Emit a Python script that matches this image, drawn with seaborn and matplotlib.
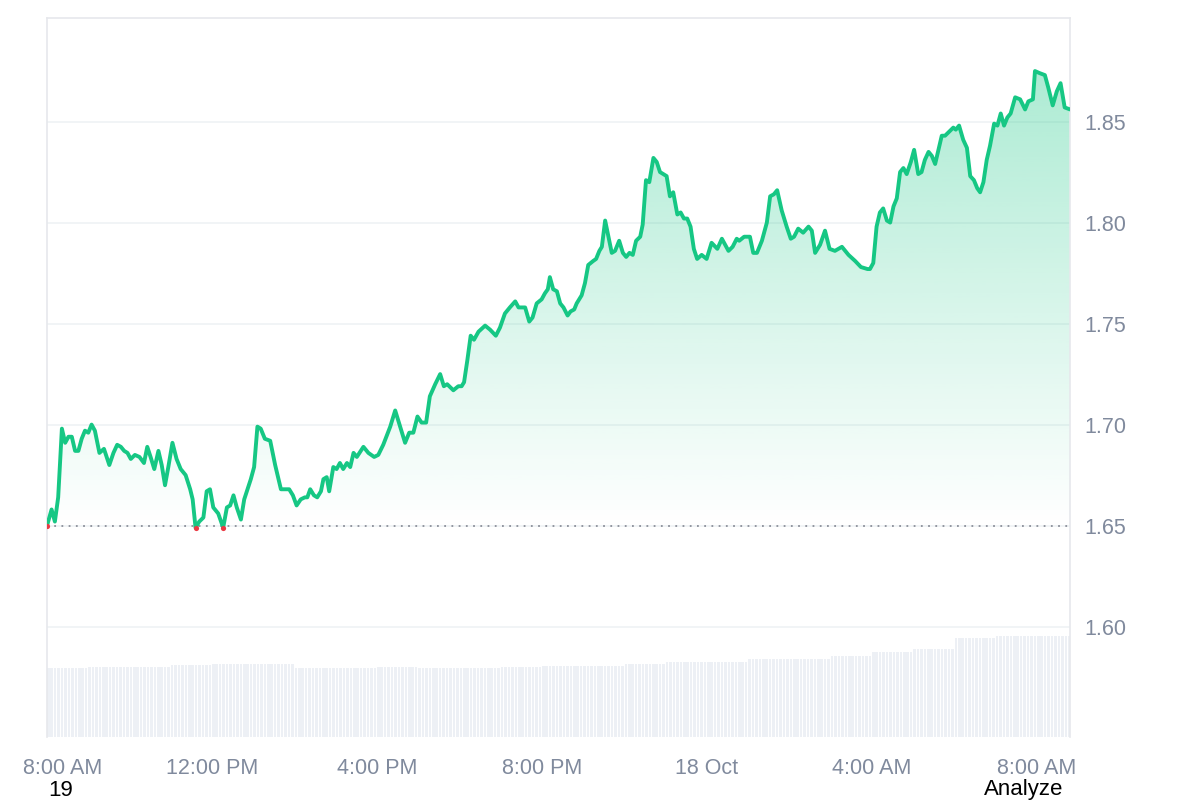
import numpy as np
import pandas as pd
import matplotlib
matplotlib.use('Agg')
import matplotlib.pyplot as plt
from matplotlib.transforms import ScaledTranslation
import seaborn as sns

# Precio: horas desde las 8:00 AM del 17 Oct
hours = [0.00, 0.11, 0.19, 0.27, 0.36, 0.44, 0.52, 0.60, 0.68, 0.76,
         0.84, 0.92, 1.00, 1.08, 1.16, 1.27, 1.38, 1.51, 1.61, 1.70,
         1.79, 1.87, 1.95, 2.03, 2.13, 2.24, 2.35, 2.43, 2.51, 2.60,
         2.70, 2.78, 2.86, 2.94, 3.04, 3.14, 3.24, 3.36, 3.47, 3.53,
         3.60, 3.69, 3.79, 3.87, 3.95, 4.03, 4.15, 4.27, 4.36, 4.44,
         4.52, 4.60, 4.70, 4.78, 4.86, 4.94, 5.02, 5.10, 5.18, 5.28,
         5.41, 5.53, 5.67, 5.77, 5.87, 5.96, 6.05, 6.15, 6.25, 6.31,
         6.38, 6.47, 6.55, 6.64, 6.70, 6.78, 6.84, 6.94, 7.02, 7.10,
         7.18, 7.27, 7.35, 7.43, 7.51, 7.67, 7.79, 7.93, 8.03, 8.15,
         8.32, 8.44, 8.56, 8.68, 8.78, 8.88, 8.98, 9.08, 9.19, 9.28,
         9.41, 9.53, 9.62, 9.70, 9.85, 9.97, 10.05, 10.11, 10.19, 10.27,
         10.35, 10.46, 10.62, 10.74, 10.88, 10.98, 11.10, 11.22, 11.35, 11.43,
         11.59, 11.69, 11.77, 11.87, 11.99, 12.07, 12.14, 12.19, 12.27, 12.36,
         12.44, 12.52, 12.62, 12.69, 12.78, 12.84, 12.96, 13.04, 13.12, 13.24,
         13.31, 13.39, 13.45, 13.53, 13.61, 13.69, 13.77, 13.87, 13.96, 14.04,
         14.12, 14.20, 14.28, 14.38, 14.44, 14.52, 14.60, 14.70, 14.78, 14.86,
         14.94, 15.02, 15.10, 15.18, 15.28, 15.36, 15.44, 15.52, 15.60, 15.68,
         15.76, 15.87, 15.99, 16.11, 16.25, 16.36, 16.52, 16.62, 16.72, 16.78,
         16.90, 17.04, 17.12, 17.21, 17.33, 17.45, 17.53, 17.62, 17.70, 17.81,
         17.93, 18.03, 18.11, 18.21, 18.33, 18.46, 18.54, 18.62, 18.74, 18.86,
         18.97, 19.10, 19.27, 19.43, 19.59, 19.73, 19.89, 19.95, 20.03, 20.11,
         20.19, 20.27, 20.36, 20.44, 20.52, 20.60, 20.68, 20.76, 20.84, 20.94,
         21.02, 21.12, 21.20, 21.28, 21.37, 21.45, 21.53, 21.61, 21.69, 21.77,
         21.87, 21.97, 22.03, 22.11, 22.21, 22.30, 22.38, 22.47, 22.55, 22.62,
         22.70, 22.78, 22.86, 22.96, 23.04, 23.12, 23.20, 23.28, 23.36, 23.47,
         23.59, 23.71, 23.79, 23.90, 23.95, 24.06, 24.19, 24.27, 24.38, 24.48,
         24.57, 24.67, 24.80]

price = [1.650, 1.658, 1.652, 1.664, 1.698, 1.691, 1.694, 1.694, 1.687, 1.687,
         1.693, 1.697, 1.696, 1.700, 1.697, 1.686, 1.688, 1.680, 1.686, 1.690,
         1.689, 1.687, 1.686, 1.683, 1.685, 1.684, 1.681, 1.689, 1.684, 1.678,
         1.687, 1.680, 1.670, 1.679, 1.691, 1.683, 1.678, 1.675, 1.668, 1.663,
         1.649, 1.652, 1.654, 1.667, 1.668, 1.659, 1.656, 1.649, 1.659, 1.660,
         1.665, 1.659, 1.653, 1.663, 1.668, 1.673, 1.679, 1.699, 1.698, 1.693,
         1.692, 1.680, 1.668, 1.668, 1.668, 1.665, 1.660, 1.663, 1.664, 1.664,
         1.668, 1.665, 1.664, 1.667, 1.673, 1.674, 1.667, 1.679, 1.678, 1.681,
         1.678, 1.681, 1.679, 1.686, 1.684, 1.689, 1.686, 1.684, 1.685, 1.690,
         1.699, 1.707, 1.699, 1.691, 1.696, 1.696, 1.704, 1.701, 1.701, 1.714,
         1.720, 1.725, 1.719, 1.720, 1.717, 1.719, 1.719, 1.721, 1.732, 1.744,
         1.742, 1.746, 1.749, 1.747, 1.744, 1.748, 1.755, 1.758, 1.761, 1.758,
         1.758, 1.751, 1.753, 1.760, 1.762, 1.765, 1.767, 1.773, 1.767, 1.766,
         1.760, 1.758, 1.754, 1.756, 1.757, 1.760, 1.764, 1.770, 1.779, 1.781,
         1.782, 1.786, 1.788, 1.801, 1.793, 1.785, 1.786, 1.791, 1.785, 1.783,
         1.785, 1.784, 1.791, 1.793, 1.799, 1.821, 1.820, 1.832, 1.830, 1.825,
         1.824, 1.823, 1.813, 1.815, 1.804, 1.805, 1.802, 1.802, 1.798, 1.787,
         1.782, 1.784, 1.782, 1.790, 1.787, 1.792, 1.786, 1.788, 1.792, 1.791,
         1.793, 1.793, 1.785, 1.785, 1.791, 1.800, 1.813, 1.814, 1.816, 1.806,
         1.798, 1.792, 1.793, 1.797, 1.795, 1.798, 1.796, 1.785, 1.789, 1.796,
         1.787, 1.786, 1.788, 1.784, 1.781, 1.778, 1.777, 1.777, 1.780, 1.798,
         1.805, 1.807, 1.801, 1.800, 1.808, 1.812, 1.825, 1.827, 1.824, 1.830,
         1.836, 1.824, 1.825, 1.831, 1.835, 1.833, 1.829, 1.836, 1.843, 1.843,
         1.845, 1.847, 1.846, 1.848, 1.841, 1.837, 1.823, 1.821, 1.817, 1.815,
         1.820, 1.831, 1.838, 1.849, 1.848, 1.854, 1.848, 1.852, 1.854, 1.862,
         1.861, 1.856, 1.860, 1.861, 1.875, 1.874, 1.873, 1.867, 1.858, 1.865,
         1.869, 1.857, 1.856]

# Volumen (24h, millones) por hora
volume_hourly = [34.5, 35.0, 35.0, 36.0, 36.7, 36.5, 34.5, 34.7, 35.2, 34.5,
                 34.5, 35.0, 35.5, 35.5, 36.7, 37.5, 37.7, 39.0, 39.0, 40.5,
                 42.5, 44.0, 49.5, 50.5, 50.5]

tick_hours = [0, 4, 8, 12, 16, 20, 24]
tick_labels = ['8:00 AM', '12:00 PM', '4:00 PM', '8:00 PM', '18 Oct', '4:00 AM', '8:00 AM']
y_ticks = [1.60, 1.65, 1.70, 1.75, 1.80, 1.85]
baseline = 1.65

df = pd.DataFrame({'hora': hours, 'precio': price})

sns.set_theme(style='white')
plt.rcParams['font.family'] = ['Liberation Sans', 'DejaVu Sans']

green = '#16c784'
red = '#ea3943'
grey_txt = '#808a9d'

fig = plt.figure(figsize=(12, 8), dpi=100)
ax = fig.add_axes([0.0392, 0.0788, 0.8525, 0.8988])
ax2 = ax.twinx()

# barras de volumen (cada 5 min)
bar_t = np.arange(0, hours[-1], 1 / 12)
bar_v = [volume_hourly[int(t)] for t in bar_t]
ax2.bar(bar_t, bar_v, width=0.062, align='edge', color='#edf0f5', linewidth=0)
ax2.set_ylim(0, 359.5)
ax2.set_yticks([])
for s in ax2.spines.values():
    s.set_visible(False)

ax.set_zorder(ax2.get_zorder() + 1)
ax.patch.set_visible(False)

# relleno degradado bajo la línea
poly = ax.fill_between(df['hora'], df['precio'], baseline, color='none', linewidth=0)
grad = np.zeros((256, 1, 4))
grad[:, 0, :3] = matplotlib.colors.to_rgb(green)
grad[:, 0, 3] = np.linspace(0.0, 0.36, 256)
img = ax.imshow(grad, extent=[0, hours[-1], baseline, 1.88], origin='lower',
                aspect='auto', zorder=1)
img.set_clip_path(poly.get_paths()[0], transform=ax.transData)

sns.lineplot(data=df, x='hora', y='precio', ax=ax, color=green, linewidth=2.8, zorder=3)
low = df[df['precio'] <= baseline]
ax.scatter(low['hora'], low['precio'], s=14, color=red, zorder=4, linewidths=0)

ax.axhline(baseline, color='#8b8f99', linestyle=(0, (1, 3)), linewidth=1.3, zorder=2)

ax.set_xlim(0, hours[-1])
ax.set_ylim(1.5454, 1.9013)
ax.set_yticks(y_ticks)
ax.set_yticklabels([f'{v:.2f}' for v in y_ticks])
ax.yaxis.tick_right()
ax.grid(axis='y', color='#eff2f5', linewidth=1.2)
ax.set_xticks(tick_hours)
ax.set_xticklabels(tick_labels)
ax.tick_params(axis='x', length=0, pad=15, labelsize=15.5, labelcolor=grey_txt)
ax.tick_params(axis='y', length=0, pad=10.5, labelsize=15.5, labelcolor=grey_txt)
ax.set_xlabel('')
ax.set_ylabel('')

# primera etiqueta desplazada para no salirse
lbl = ax.get_xticklabels()[0]
lbl.set_transform(lbl.get_transform() + ScaledTranslation(0.16, 0, fig.dpi_scale_trans))

for side in ['left', 'top', 'right']:
    ax.spines[side].set_color('#e6e8ec')
    ax.spines[side].set_linewidth(1.2)
ax.spines['bottom'].set_visible(False)

fig.text(48 / 1200, 1 - 790 / 800, '19', fontsize=16, color='black', va='center')
fig.text(1063 / 1200, 1 - 790 / 800, 'Analyze', fontsize=16, color='black',
         va='center', ha='right')

plt.savefig('out.png', dpi=100)
